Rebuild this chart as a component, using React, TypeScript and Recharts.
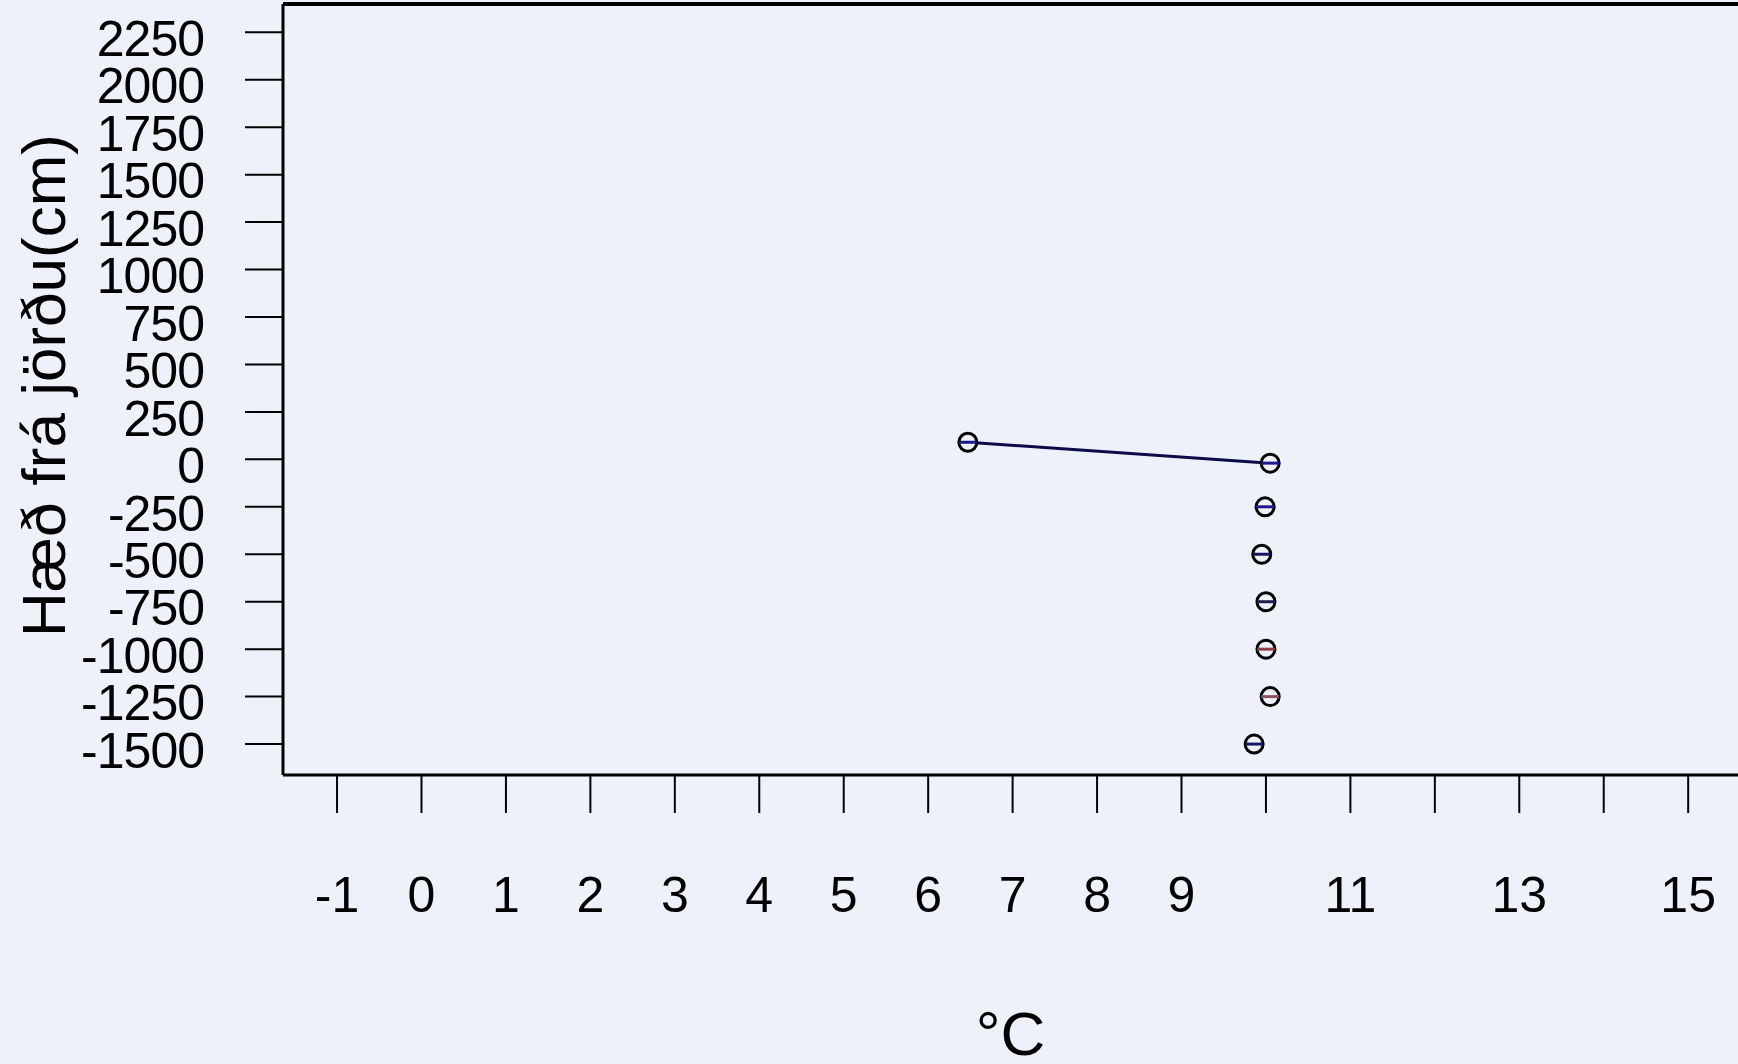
import { ScatterChart, Scatter, XAxis, YAxis, Cell, ReferenceLine } from "recharts";

// hitastig (°C) og hæð frá jörðu (cm)
const temps = [6.47, 10.05, 9.99, 9.95, 10.0, 10.0, 10.05, 9.86];
const heights = [90, -20, -250, -500, -750, -1000, -1250, -1500];
const markerColors = ["#1a1a8c", "#1a1a8c", "#1a1a8c", "#141460", "#202050", "#8a4040", "#8a5060", "#141460"];

// only the first two readings are joined by a line
const linkedCount = 2;

const xTicks = [-1, 0, 1, 2, 3, 4, 5, 6, 7, 8, 9, 10, 11, 12, 13, 14, 15];
const xTickLabels = ["-1", "0", "1", "2", "3", "4", "5", "6", "7", "8", "9", "", "11", "", "13", "", "15"];
const yTicks = [-1500, -1250, -1000, -750, -500, -250, 0, 250, 500, 750, 1000, 1250, 1500, 1750, 2000, 2250];

const xDomain = [-1.64, 15.59];
const yDomain = [-1663, 2399];

const points = temps.map((t, i) => ({ x: t, y: heights[i] }));
const linePoints = points.slice(0, linkedCount);

const FONT = "'Liberation Sans', Arial, sans-serif";
const BG = "#eef1fa";

const Marker = (props: any) => {
  const { cx, cy, fill } = props;
  if (cx == null || cy == null) return <g />;
  return (
    <g>
      <circle cx={cx} cy={cy} r={9} fill={BG} stroke="#000" strokeWidth={3} />
      <line x1={cx - 9} x2={cx + 9} y1={cy} y2={cy} stroke={fill} strokeWidth={3} />
    </g>
  );
};

const XTick = (props: any) => {
  const { x, y, payload } = props;
  const idx = xTicks.indexOf(payload.value);
  return (
    <text x={x} y={y} dy="0.71em" textAnchor="middle" fontFamily={FONT} fontSize={50} fill="#000">
      {xTickLabels[idx]}
    </text>
  );
};

const YTick = (props: any) => {
  const { x, y, payload } = props;
  return (
    <text x={x} y={y + 6} dy="0.355em" textAnchor="end" fontFamily={FONT} fontSize={50} letterSpacing={-1} fill="#000">
      {payload.value}
    </text>
  );
};

export default function App() {
  return (
    <div style={{ position: "absolute", left: 0, top: 0, width: 1738, height: 1064, background: BG, overflow: "hidden" }}>
      <ScatterChart width={1738} height={1064} margin={{ top: 4, right: 0, bottom: 0, left: 0 }}>
        <XAxis
          type="number"
          dataKey="x"
          domain={xDomain}
          allowDataOverflow
          ticks={xTicks}
          interval={0}
          height={289}
          tickSize={38}
          tickMargin={63}
          tick={<XTick />}
          tickLine={{ stroke: "#000", strokeWidth: 2 }}
          axisLine={{ stroke: "#000", strokeWidth: 3 }}
          label={{
            content: (p: any) => {
              const vb = p.viewBox;
              return (
                <text x={vb.x + vb.width / 2} y={vb.y + 280} textAnchor="middle" fontFamily={FONT} fontSize={62} fill="#000">
                  °C
                </text>
              );
            },
          }}
        />
        <YAxis
          type="number"
          dataKey="y"
          domain={yDomain}
          allowDataOverflow
          ticks={yTicks}
          interval={0}
          width={283}
          tickSize={38}
          tickMargin={41}
          tick={<YTick />}
          tickLine={{ stroke: "#000", strokeWidth: 2 }}
          axisLine={{ stroke: "#000", strokeWidth: 3 }}
          label={{
            content: (p: any) => {
              const vb = p.viewBox;
              const cy = vb.y + vb.height / 2 - 4;
              return (
                <text x={65} y={cy} transform={`rotate(-90, 65, ${cy})`} textAnchor="middle" fontFamily={FONT} fontSize={62} fill="#000">
                  Hæð frá jörðu(cm)
                </text>
              );
            },
          }}
        />
        <ReferenceLine y={yDomain[1]} stroke="#000" strokeWidth={4} />
        <Scatter
          data={linePoints}
          line={{ stroke: "#0c0c48", strokeWidth: 3 }}
          shape={() => <g />}
          isAnimationActive={false}
        />
        <Scatter data={points} shape={<Marker />} isAnimationActive={false}>
          {points.map((_, i) => (
            <Cell key={`pt-${i}`} fill={markerColors[i]} />
          ))}
        </Scatter>
      </ScatterChart>
    </div>
  );
}
